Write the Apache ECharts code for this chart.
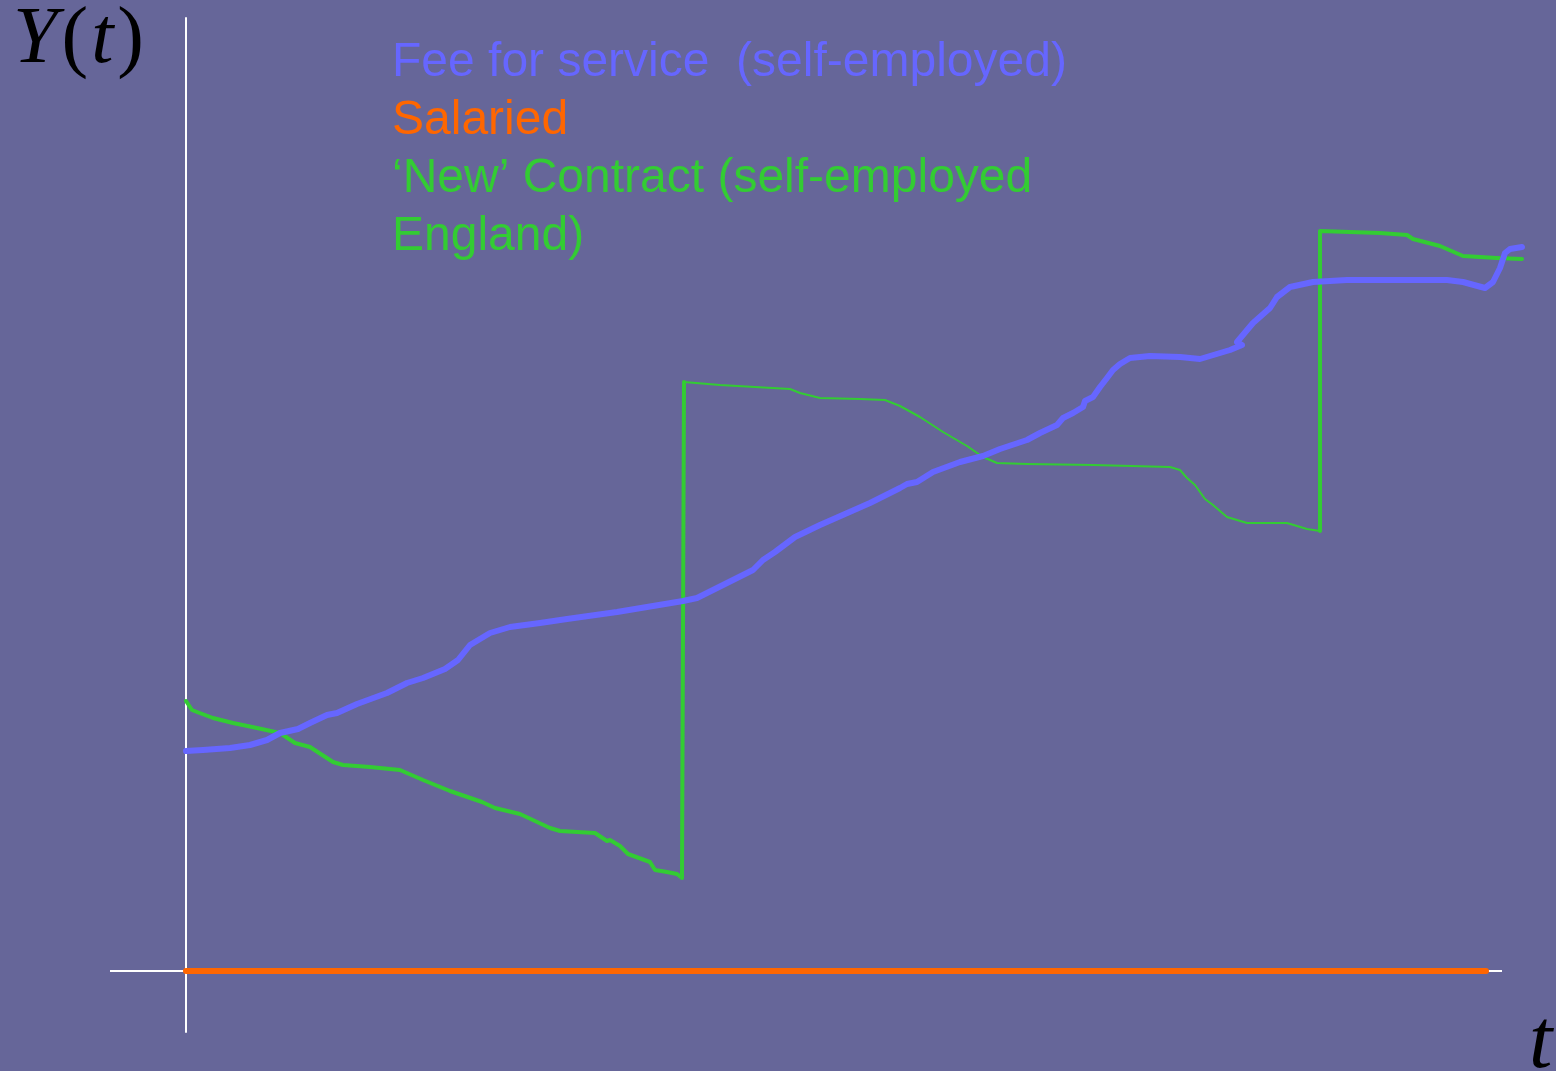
<!DOCTYPE html>
<html>
<head>
<meta charset="utf-8">
<title>Y(t)</title>
<script src="https://cdn.jsdelivr.net/npm/echarts@6/dist/echarts.min.js"></script>
<style>
  html, body { margin: 0; padding: 0; background: #666699; }
  #chart { width: 1556px; height: 1071px; }
</style>
</head>
<body>
<div id="chart"></div>
<script>
// series names (shown as coloured text block)
var labels = ['Fee for service  (self-employed)', 'Salaried', '\u2018New\u2019 Contract (self-employed', 'England)'];

// fee for service: [t, Y]
var feeForService = [
    [0, 22.0], [1.7, 22.1], [4.4, 22.3], [6.4, 22.6], [8.1, 23.1], [9.4, 23.8], [11.2, 24.2], [12.4, 24.8],
    [14.1, 25.6], [15.1, 25.8], [17.1, 26.7], [20.1, 27.8], [22.1, 28.8], [23.7, 29.3], [25.9, 30.2],
    [27.2, 31.1], [28.4, 32.6], [30.4, 33.8], [32.4, 34.4], [35.4, 34.8], [38.1, 35.2], [43.1, 35.9],
    [49.7, 37.0], [51.1, 37.3], [56.7, 40.1], [57.7, 41.1], [58.9, 41.9], [60.9, 43.4], [63.4, 44.6],
    [65.9, 45.7], [68.4, 46.8], [71.4, 48.3], [72.1, 48.7], [73.1, 48.9], [74.7, 49.9], [77.4, 50.9],
    [79.7, 51.5], [81.4, 52.2], [84.1, 53.1], [85.4, 53.8], [87.1, 54.6], [87.7, 55.3], [88.7, 55.8],
    [89.7, 56.4], [89.9, 57.0], [90.7, 57.4], [91.4, 58.4], [92.1, 59.3], [92.7, 60.1], [93.4, 60.7],
    [94.4, 61.3], [96.4, 61.5], [99.4, 61.4], [101.4, 61.2], [104.4, 62.1], [105.6, 62.6], [105.1, 62.9],
    [106.7, 64.8], [108.4, 66.3], [109.1, 67.4], [110.4, 68.4], [112.7, 68.9], [116.1, 69.1], [122.7, 69.1],
    [126.1, 69.1], [127.7, 68.9], [129.9, 68.3], [130.7, 68.9], [131.4, 70.3], [131.9, 71.8], [132.4, 72.2],
    [133.6, 72.4]
];

// salaried: flat at zero
var salaried = [[0, 0], [130, 0]];

// new contract, three pieces (first period + jump, middle period, last jump + period)
var newContractA = [
    [0, 27.0], [0.6, 26.1], [1.1, 25.9], [2.7, 25.3], [4.7, 24.8], [7.1, 24.3], [9.4, 23.8], [10.9, 22.8],
    [12.4, 22.4], [14.7, 20.9], [15.7, 20.6], [18.4, 20.4], [21.4, 20.1], [23.7, 19.1], [26.4, 18.0],
    [29.6, 16.9], [30.9, 16.3], [33.4, 15.7], [36.4, 14.3], [37.4, 14.0], [40.9, 13.8], [42.1, 13.0],
    [42.4, 13.1], [43.4, 12.5], [44.2, 11.7], [46.4, 10.9], [46.9, 10.1], [48.1, 9.9], [49.1, 9.7],
    [49.6, 9.3], [49.8, 9.1], [49.8, 58.9]
];
var newContractB = [
    [49.8, 58.9], [53.4, 58.6], [60.4, 58.2], [61.4, 57.8], [63.4, 57.3], [67.4, 57.2], [69.9, 57.1],
    [71.4, 56.5], [73.4, 55.4], [75.7, 53.9], [78.1, 52.5], [79.7, 51.4], [81.1, 50.8], [84.1, 50.7],
    [90.7, 50.6], [98.4, 50.4], [99.4, 50.1], [100.1, 49.3], [100.9, 48.6], [101.9, 47.2], [102.7, 46.6],
    [104.1, 45.4], [106.1, 44.8], [110.1, 44.8], [112.1, 44.2], [113.4, 44.0]
];
var newContractC = [
    [113.4, 44.0], [113.4, 74.0], [119.4, 73.8], [122.1, 73.6], [122.7, 73.2], [125.4, 72.5],
    [127.7, 71.5], [131.1, 71.3], [133.6, 71.2]
];

// horizontal t axis (drawn as a line, it stops short of the curves' ends)
var tAxis = [[-7.6, 0], [131.6, 0]];

var blue = '#6666ff', orange = '#ff6600', green = '#33cc33';

function lineSeries(name, data, color, width) {
    return {
        name: name,
        type: 'line',
        data: data,
        showSymbol: false,
        silent: true,
        lineStyle: { color: color, width: width, join: 'round', cap: 'round' }
    };
}

var sans = { fontSize: 48, lineHeight: 58, fontWeight: 'normal', fontFamily: 'Liberation Sans' };

var chart = echarts.init(document.getElementById('chart'));
var option = {
    backgroundColor: '#666699',
    animation: false,
    title: [
        {
            left: 387, top: 29,
            text: '{a|' + labels[0] + '}\n{b|' + labels[1] + '}\n{c|' + labels[2] + '}\n{c|' + labels[3] + '}',
            textStyle: {
                fontWeight: 'normal',
                rich: {
                    a: extend({ color: blue }, sans),
                    b: extend({ color: orange }, sans),
                    c: extend({ color: green }, sans)
                }
            }
        },
        {
            left: 6, top: -6,
            text: '{i|Y}{r|(}{i|t}{r|)}',
            textStyle: {
                fontWeight: 'normal',
                rich: {
                    i: { color: '#000', fontSize: 80, fontWeight: 'normal', fontStyle: 'italic', fontFamily: 'Liberation Serif', lineHeight: 84, padding: [0, 3, 0, 2] },
                    r: { color: '#000', fontSize: 80, fontWeight: 'normal', fontFamily: 'Liberation Serif', lineHeight: 84, padding: [0, 1, 0, 1] }
                }
            }
        },
        {
            left: 1524, top: 998,
            text: 't',
            textStyle: { color: '#000', fontSize: 84, fontStyle: 'italic', fontWeight: 'normal', fontFamily: 'Liberation Serif' }
        }
    ],
    grid: { left: 110, right: 26, top: 18, bottom: 39 },
    xAxis: {
        type: 'value',
        min: -7.6, max: 134.4,
        axisLine: { show: false },
        axisTick: { show: false },
        axisLabel: { show: false },
        splitLine: { show: false }
    },
    yAxis: {
        type: 'value',
        min: -6.1, max: 95.3,
        axisLine: { show: true, onZero: true, lineStyle: { color: '#ffffff', width: 2 } },
        axisTick: { show: false },
        axisLabel: { show: false },
        splitLine: { show: false }
    },
    series: [
        extend(lineSeries('t axis', tAxis, '#ffffff', 2), { lineStyle: { color: '#ffffff', width: 2, cap: 'butt' } }),
        lineSeries('Salaried', salaried, orange, 6),
        lineSeries('New Contract A', newContractA, green, 4),
        lineSeries('New Contract B', newContractB, green, 2),
        lineSeries('New Contract C', newContractC, green, 4),
        lineSeries('Fee for service', feeForService, blue, 6)
    ]
};

function extend(target, src) {
    for (var k in src) {
        target[k] = src[k];
    }
    return target;
}

chart.setOption(option);
</script>
</body>
</html>
